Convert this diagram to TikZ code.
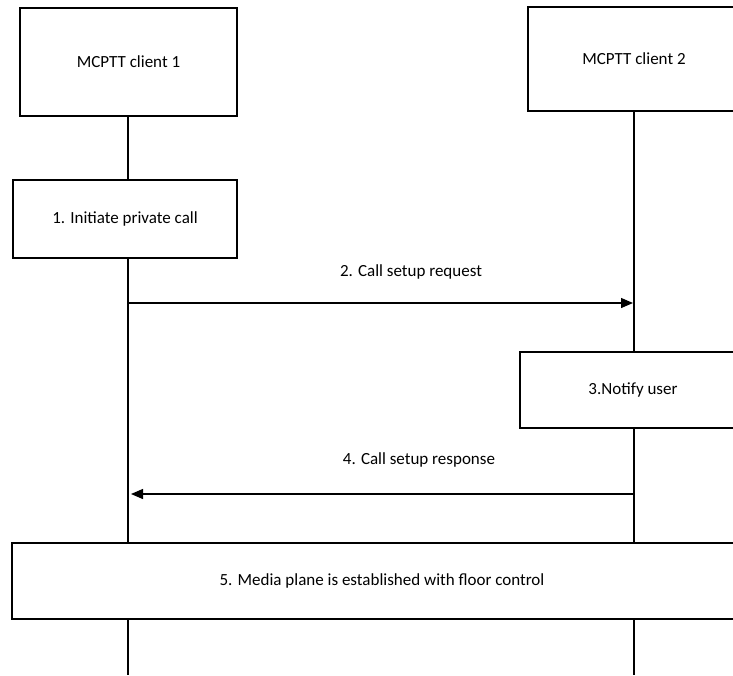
\documentclass[tikz,border=0pt]{standalone}
\usepackage{fontspec}
\setmainfont{Carlito}
\usetikzlibrary{arrows.meta}
\begin{document}
\begin{tikzpicture}[x=1pt,y=-1pt,
  box/.style={draw,line width=1.3pt},
  life/.style={line width=1.3pt},
  msg/.style={line width=1.3pt,-{Triangle[length=12pt,width=10pt]}},
  lbl/.style={font=\fontsize{17}{20}\selectfont}]
\useasboundingbox (0,0) rectangle (733,675);
\begin{scope}
\clip (0,0) rectangle (733,675);
\draw[box] (20,8) rectangle (237,116);
\node[lbl] (c1) at (128.5,62) {MCPTT client 1};
\draw[box] (528,7) rectangle (740,111);
\node[lbl] (c2) at (634,59) {MCPTT client 2};
\draw[box] (13,180) rectangle (237,258);
\node[lbl] (s1) at (125,219) {1. Initiate private call};
\draw[box] (520,352) rectangle (748,428);
\node[lbl] (s3) at (633,390) {3.Notify user};
\draw[box] (12,543) rectangle (755,619);
\node[lbl] (s5) at (382,581) {5. Media plane is established with floor control};
\coordinate (l1a) at (128,116); \coordinate (l1b) at (128,180);
\coordinate (l1c) at (128,258); \coordinate (l1d) at (128,543);
\coordinate (l1e) at (128,619); \coordinate (l1f) at (128,675);
\coordinate (l2a) at (634,111); \coordinate (l2b) at (634,352);
\coordinate (l2c) at (634,428); \coordinate (l2d) at (634,543);
\coordinate (l2e) at (634,619); \coordinate (l2f) at (634,675);
\draw[life] (l1a) -- (l1b) (l1c) -- (l1d) (l1e) -- (l1f);
\draw[life] (l2a) -- (l2b) (l2c) -- (l2d) (l2e) -- (l2f);
\coordinate (m2s) at (128,303); \coordinate (m2e) at (633,303);
\draw[msg] (m2s) -- (m2e);
\node[lbl] (t2) at (411,272) {2. Call setup request};
\coordinate (m4s) at (634,494); \coordinate (m4e) at (131,494);
\draw[msg] (m4s) -- (m4e);
\node[lbl] (t4) at (419,460) {4. Call setup response};
\end{scope}
\end{tikzpicture}
\end{document}
